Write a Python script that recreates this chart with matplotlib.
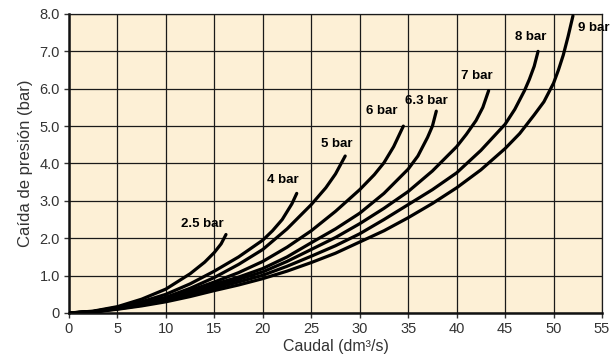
import numpy as np
import matplotlib
matplotlib.use('Agg')
from matplotlib import pyplot as plt

# caudal (dm3/s) and caida de presion (bar)
q_25 = [0, 2.5, 5, 7.5, 10, 12.5, 14, 15, 15.7, 16.2]
p_25 = [0, 0.05, 0.17, 0.37, 0.64, 1.05, 1.36, 1.62, 1.85, 2.1]

q_4 = [0, 2.5, 5, 7.5, 10, 12.5, 15, 17.5, 20, 21, 22, 23, 23.5]
p_4 = [0, 0.04, 0.15, 0.3, 0.5, 0.78, 1.12, 1.5, 1.95, 2.2, 2.5, 2.92, 3.2]

q_5 = [0, 2.5, 5, 7.5, 10, 12.5, 15, 17.5, 20, 22.5, 25, 26.5, 27.5, 28.5]
p_5 = [0, 0.04, 0.14, 0.27, 0.42, 0.66, 0.95, 1.3, 1.7, 2.25, 2.9, 3.35, 3.72, 4.2]

q_6 = [0, 2.5, 5, 7.5, 10, 12.5, 15, 17.5, 20, 22.5, 25, 27.5, 30, 31.5, 32.5, 33.5, 34.5]
p_6 = [0, 0.03, 0.13, 0.25, 0.4, 0.6, 0.83, 1.08, 1.38, 1.76, 2.2, 2.72, 3.3, 3.7, 4.02, 4.45, 5.0]

q_63 = [0, 2.5, 5, 7.5, 10, 12.5, 15, 17.5, 20, 22.5, 25, 27.5, 30, 32.5, 35, 36, 37, 37.5, 37.9]
p_63 = [0, 0.03, 0.13, 0.24, 0.38, 0.56, 0.77, 0.96, 1.19, 1.5, 1.88, 2.25, 2.67, 3.2, 3.85, 4.2, 4.7, 5.0, 5.4]

q_7 = [0, 2.5, 5, 7.5, 10, 12.5, 15, 17.5, 20, 22.5, 25, 27.5, 30, 32.5, 35, 37.5, 40, 41, 42, 42.7, 43.3]
p_7 = [0, 0.03, 0.12, 0.22, 0.35, 0.52, 0.72, 0.9, 1.1, 1.38, 1.7, 2.02, 2.39, 2.8, 3.25, 3.8, 4.45, 4.78, 5.15, 5.5, 5.95]

q_8 = [0, 2.5, 5, 7.5, 10, 12.5, 15, 17.5, 20, 22.5, 25, 27.5, 30, 32.5, 35, 37.5, 40, 42.5, 45, 46, 47, 47.5, 48, 48.4]
p_8 = [0, 0.03, 0.11, 0.21, 0.33, 0.48, 0.66, 0.83, 1.01, 1.25, 1.52, 1.8, 2.12, 2.5, 2.9, 3.3, 3.75, 4.35, 5.05, 5.45, 5.95, 6.25, 6.6, 7.0]

q_9 = [0, 2.5, 5, 7.5, 10, 12.5, 15, 17.5, 20, 22.5, 25, 27.5, 30, 32.5, 35, 37.5, 40, 42.5, 45, 46.5, 48, 49, 50, 50.5, 51, 51.5, 52]
p_9 = [0, 0.03, 0.1, 0.19, 0.3, 0.44, 0.6, 0.75, 0.92, 1.12, 1.35, 1.6, 1.9, 2.2, 2.55, 2.93, 3.35, 3.83, 4.4, 4.8, 5.3, 5.65, 6.15, 6.5, 6.9, 7.4, 7.95]

series = [(q_25, p_25), (q_4, p_4), (q_5, p_5), (q_6, p_6),
          (q_63, p_63), (q_7, p_7), (q_8, p_8), (q_9, p_9)]

labels = ['2.5 bar', '4 bar', '5 bar', '6 bar', '6.3 bar', '7 bar', '8 bar', '9 bar']
label_x = [13.8, 22.1, 27.6, 32.3, 36.9, 42.1, 47.6, 54.1]
label_y = [2.39, 3.55, 4.52, 5.41, 5.68, 6.35, 7.39, 7.62]

x_ticks = list(range(0, 60, 5))
y_ticks = [0, 1, 2, 3, 4, 5, 6, 7, 8]
y_tick_labels = ['0', '1.0', '2.0', '3.0', '4.0', '5.0', '6.0', '7.0', '8.0']

plt.rcParams['font.family'] = ['Liberation Sans', 'DejaVu Sans']

fig = plt.figure(figsize=(6.12, 3.58), dpi=100)
ax = fig.add_axes([0.1127, 0.1257, 0.871, 0.8352])
ax.set_facecolor('#fdf0d6')

for q, p in series:
	ax.plot(q, p, color='black', lw=2.3, solid_capstyle='round', solid_joinstyle='round', zorder=3)

for txt, lx, ly in zip(labels, label_x, label_y):
	ax.text(lx, ly, txt, fontsize=9.5, fontweight='bold', ha='center', va='center',
		clip_on=False, zorder=4)

ax.set_xlim(0, 55)
ax.set_ylim(0, 8)
ax.set_xticks(x_ticks)
ax.set_yticks(y_ticks)
ax.set_yticklabels(y_tick_labels)
ax.grid(True, color='#1a1a1a', lw=0.9, zorder=1)
ax.set_axisbelow(True)

ax.tick_params(axis='both', labelsize=10.5, labelcolor='#333333', length=3.5, width=1, color='#333333')
ax.tick_params(axis='x', pad=3)
ax.tick_params(axis='y', pad=3)

for s in ['top', 'right']:
	ax.spines[s].set_linewidth(0.9)
	ax.spines[s].set_color('#1a1a1a')
for s in ['left', 'bottom']:
	ax.spines[s].set_linewidth(1.8)
	ax.spines[s].set_color('#111111')

ax.set_xlabel('Caudal (dm³/s)', fontsize=11.5, color='#333333', labelpad=2)
ax.set_ylabel('Caída de presión (bar)', fontsize=12, color='#333333', labelpad=5)

fig.savefig('out.png', dpi=100)
plt.close()
